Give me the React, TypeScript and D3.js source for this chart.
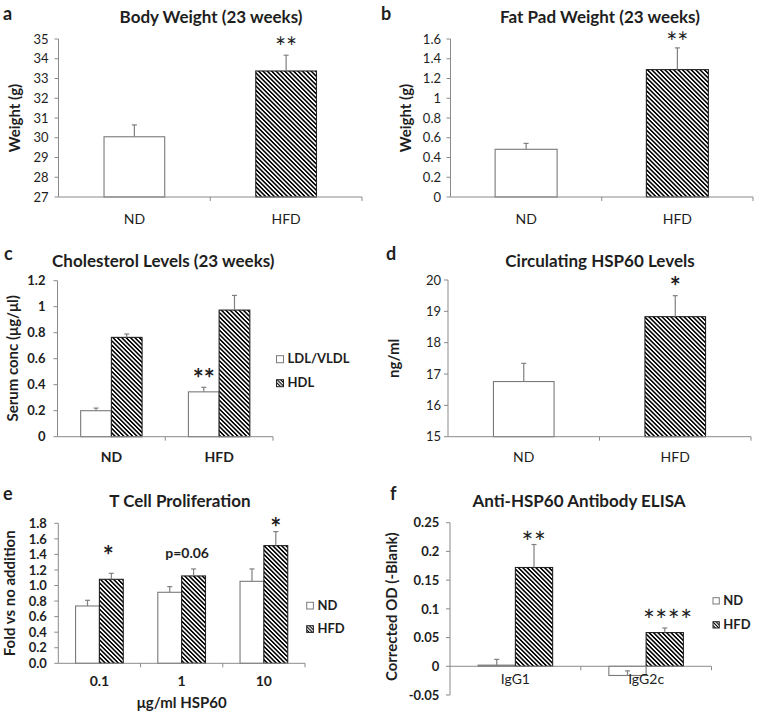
import React from "react";
import * as d3 from "d3";

// ---------- data ----------
const dietCats = ["ND", "HFD"];
const bodyWeight = [30.05, 33.38];
const bodyWeightSE = [0.6, 0.8];
const fatPad = [0.483, 1.29];
const fatPadSE = [0.06, 0.22];

const cholCats = ["ND", "HFD"];
const ldl = [0.2, 0.345];
const ldlSE = [0.02, 0.035];
const hdl = [0.764, 0.974];
const hdlSE = [0.026, 0.113];

const hsp60 = [16.76, 18.83];
const hsp60SE = [0.58, 0.67];

const doseCats = ["0.1", "1", "10"];
const prolifND = [0.737, 0.913, 1.054];
const prolifNDSE = [0.073, 0.073, 0.159];
const prolifHFD = [1.08, 1.123, 1.513];
const prolifHFDSE = [0.077, 0.09, 0.18];

const isoCats = ["IgG1", "IgG2c"];
const elisaND = [0.002, -0.016];
const elisaNDSE = [0.01, 0.008];
const elisaHFD = [0.172, 0.0587];
const elisaHFDSE = [0.04, 0.008];

const ticksA = d3.range(27, 35.001, 1);
const ticksB = d3.range(0, 1.601, 0.2);
const ticksC = d3.range(0, 1.201, 0.2);
const ticksD = d3.range(15, 20.001, 1);
const ticksE = d3.range(0, 1.801, 0.2);
const ticksF = d3.range(-0.05, 0.2501, 0.05);

// ---------- styles ----------
const FONT = "Lato, 'Open Sans', sans-serif";
const TXT = "#1e1e1e";
const AXIS = "#8a8a8a";
const ND_STROKE = "#7a7a7a";
const HFD_STROKE = "#222";
const ERR = "#808080";

type Series = { name: string; values: number[]; se: number[]; hatch: boolean[] };
type Note = { cat: number; ser: number; label: string; gap: number; size: number; bold: boolean; k: number; dx?: number; ls?: number };
interface PanelCfg {
  letter: string; letterX: number; letterY: number;
  title: string; titleX: number; titleY: number;
  xRange: [number, number]; yRange: [number, number];
  yDomain: [number, number]; yTicks: number[]; fmt: (v: number) => string;
  tickGap: number; tickBold: boolean;
  cats: string[]; series: Series[]; groupFrac: number;
  catY: number; catBold: boolean;
  yLabel: string; yLabelX: number; yLabelY: number;
  notes: Note[];
  legend?: { x: number; y: number[]; size: number };
  xTitle?: { text: string; x: number; y: number };
  baseAtZero?: boolean;
}

const trim = (v: number) => String(+v.toFixed(2));
const one = (v: number) => v.toFixed(1);

function Panel({ c }: { c: PanelCfg }) {
  const y = d3.scaleLinear().domain(c.yDomain).range(c.yRange);
  const x0 = d3.scaleBand<string>().domain(c.cats).range(c.xRange).padding(0);
  const gw = x0.bandwidth() * c.groupFrac;
  const x1 = d3.scaleBand<number>().domain(d3.range(c.series.length)).range([0, gw]).padding(0);
  const baseVal = c.baseAtZero ? 0 : c.yDomain[0];
  const axisY = y(baseVal);
  const axisX = c.xRange[0];
  const gx = (cat: string) => (x0(cat) ?? 0) + (x0.bandwidth() - gw) / 2;
  const boundaries = [...c.cats.slice(1).map((k) => x0(k) ?? 0), c.xRange[1]];
  return (
    <g fontFamily={FONT} fill={TXT}>
      <text x={c.letterX} y={c.letterY} fontSize={18} fontWeight="bold">{c.letter}</text>
      <text x={c.titleX} y={c.titleY} fontSize={17} fontWeight="bold" textAnchor="middle">{c.title}</text>
      {/* y axis */}
      <line x1={axisX} x2={axisX} y1={c.yRange[0]} y2={c.yRange[1]} stroke={AXIS} strokeWidth={1} />
      {c.yTicks.map((t, i) => (
        <g key={i}>
          <line x1={axisX - 4} x2={axisX} y1={y(t)} y2={y(t)} stroke={AXIS} />
          <text x={axisX - c.tickGap} y={y(t)} dy="0.36em" fontSize={13} textAnchor="end" fontWeight={c.tickBold ? "bold" : "normal"}>{c.fmt(t)}</text>
        </g>
      ))}
      {/* bars */}
      {c.series.map((s, si) =>
        c.cats.map((cat, ci) => {
          const v = s.values[ci];
          const bx = gx(cat) + (x1(si) ?? 0);
          const bw = x1.bandwidth();
          const top = Math.min(y(v), y(baseVal));
          const h = Math.abs(y(v) - y(baseVal));
          const cx = bx + bw / 2;
          const e = v + s.se[ci];
          const hatch = s.hatch[ci];
          return (
            <g key={si + "-" + ci}>
              <rect x={bx} y={top} width={bw} height={h} fill={hatch ? "url(#hatch)" : "#fff"} stroke={hatch ? HFD_STROKE : ND_STROKE} strokeWidth={1.1} />
              <line x1={cx} x2={cx} y1={y(v)} y2={y(e)} stroke={ERR} strokeWidth={1.2} />
              <line x1={cx - 2.5} x2={cx + 2.5} y1={y(e)} y2={y(e)} stroke={ERR} strokeWidth={1.2} />
            </g>
          );
        })
      )}
      {/* x axis */}
      <line x1={axisX} x2={c.xRange[1]} y1={axisY} y2={axisY} stroke={AXIS} strokeWidth={1} />
      {boundaries.map((bx, i) => (
        <line key={i} x1={bx} x2={bx} y1={axisY} y2={axisY + 4} stroke={AXIS} />
      ))}
      {c.cats.map((cat) => (
        <text key={cat} x={(x0(cat) ?? 0) + x0.bandwidth() / 2} y={c.catY} fontSize={14} textAnchor="middle" fontWeight={c.catBold ? "bold" : "normal"}>{cat}</text>
      ))}
      <text transform={`translate(${c.yLabelX},${c.yLabelY}) rotate(-90)`} fontSize={15} fontWeight="bold" textAnchor="middle">{c.yLabel}</text>
      {c.xTitle && (
        <text x={c.xTitle.x} y={c.xTitle.y} fontSize={15} fontWeight="bold" textAnchor="middle">{c.xTitle.text}</text>
      )}
      {c.notes.map((n, i) => {
        const s = c.series[n.ser];
        const cat = c.cats[n.cat];
        const cx = gx(cat) + (x1(n.ser) ?? 0) + x1.bandwidth() / 2 + (n.dx ?? 0);
        const ey = y(s.values[n.cat] + s.se[n.cat]);
        const cy = ey - n.gap;
        return (
          <text key={i} x={cx} y={cy + n.k * n.size} fontSize={n.size} textAnchor="middle" fontWeight={n.bold ? "bold" : "normal"} letterSpacing={n.ls ?? 0}>{n.label}</text>
        );
      })}
      {c.legend &&
        c.series.map((s, si) => (
          <g key={s.name}>
            <rect x={c.legend!.x} y={c.legend!.y[si]} width={c.legend!.size} height={c.legend!.size} fill={s.hatch[0] ? "url(#hatchS)" : "#fff"} stroke={s.hatch[0] ? HFD_STROKE : ND_STROKE} strokeWidth={1} />
            <text x={c.legend!.x + c.legend!.size + 4} y={c.legend!.y[si] + c.legend!.size + 0.5} fontSize={13} fontWeight="bold">{s.name}</text>
          </g>
        ))}
    </g>
  );
}

const plainHatched = [false, true];
const allPlain = [false, false, false];
const allHatched = [true, true, true];

const cfgA: PanelCfg = {
  letter: "a", letterX: 3, letterY: 20, title: "Body Weight (23 weeks)", titleX: 211, titleY: 22.7,
  xRange: [58.5, 362], yRange: [197, 39], yDomain: [27, 35], yTicks: ticksA, fmt: trim, tickGap: 10, tickBold: false,
  cats: dietCats, series: [{ name: "Body weight", values: bodyWeight, se: bodyWeightSE, hatch: plainHatched }], groupFrac: 0.4,
  catY: 224, catBold: false, yLabel: "Weight (g)", yLabelX: 20, yLabelY: 118,
  notes: [{ cat: 1, ser: 0, label: "**", gap: 12.4, size: 26, bold: false, k: 0.55 }],
};
const cfgB: PanelCfg = {
  letter: "b", letterX: 381, letterY: 20, title: "Fat Pad Weight (23 weeks)", titleX: 600, titleY: 22.7,
  xRange: [450.5, 753], yRange: [197, 39], yDomain: [0, 1.6], yTicks: ticksB, fmt: trim, tickGap: 9.5, tickBold: false,
  cats: dietCats, series: [{ name: "Fat pad", values: fatPad, se: fatPadSE, hatch: plainHatched }], groupFrac: 0.41,
  catY: 224, catBold: false, yLabel: "Weight (g)", yLabelX: 411, yLabelY: 118,
  notes: [{ cat: 1, ser: 0, label: "**", gap: 10, size: 26, bold: false, k: 0.55 }],
};
const cfgC: PanelCfg = {
  letter: "c", letterX: 4, letterY: 260, title: "Cholesterol Levels (23 weeks)", titleX: 163.3, titleY: 266.7,
  xRange: [57.5, 273], yRange: [436.7, 280.7], yDomain: [0, 1.2], yTicks: ticksC, fmt: trim, tickGap: 12, tickBold: true,
  cats: cholCats,
  series: [
    { name: "LDL/VLDL", values: ldl, se: ldlSE, hatch: [false, false] },
    { name: "HDL", values: hdl, se: hdlSE, hatch: [true, true] },
  ],
  groupFrac: 0.57, catY: 461.7, catBold: true, yLabel: "Serum conc (μg/μl)", yLabelX: 18, yLabelY: 358.3,
  notes: [{ cat: 1, ser: 0, label: "**", gap: 14, size: 26, bold: true, k: 0.55 }],
  legend: { x: 276.5, y: [355.7, 379.7], size: 7 },
};
const cfgD: PanelCfg = {
  letter: "d", letterX: 386, letterY: 260, title: "Circulating HSP60 Levels", titleX: 600, titleY: 266.7,
  xRange: [448, 751], yRange: [436.7, 280], yDomain: [15, 20], yTicks: ticksD, fmt: trim, tickGap: 7, tickBold: false,
  cats: dietCats, series: [{ name: "HSP60", values: hsp60, se: hsp60SE, hatch: plainHatched }], groupFrac: 0.4,
  catY: 461.7, catBold: false, yLabel: "ng/ml", yLabelX: 399, yLabelY: 358.3,
  notes: [{ cat: 1, ser: 0, label: "*", gap: 14, size: 26, bold: true, k: 0.55 }],
};
const cfgE: PanelCfg = {
  letter: "e", letterX: 3, letterY: 500, title: "T Cell Proliferation", titleX: 180, titleY: 506.7,
  xRange: [58.3, 305], yRange: [663.3, 523.3], yDomain: [0, 1.8], yTicks: ticksE, fmt: one, tickGap: 11.5, tickBold: true,
  cats: doseCats,
  series: [
    { name: "ND", values: prolifND, se: prolifNDSE, hatch: allPlain },
    { name: "HFD", values: prolifHFD, se: prolifHFDSE, hatch: allHatched },
  ],
  groupFrac: 0.58, catY: 686, catBold: true, yLabel: "Fold vs no addition", yLabelX: 15, yLabelY: 593.3,
  notes: [
    { cat: 0, ser: 1, label: "*", gap: 22.6, size: 26, bold: true, k: 0.55, dx: -3 },
    { cat: 1, ser: 1, label: "p=0.06", gap: 16.3, size: 14, bold: true, k: 0.36, dx: -6.5 },
    { cat: 2, ser: 1, label: "*", gap: 9, size: 26, bold: true, k: 0.55 },
  ],
  legend: { x: 306.7, y: [602.3, 625.7], size: 6.7 },
  xTitle: { text: "μg/ml HSP60", x: 181.7, y: 708.3 },
};
const cfgF: PanelCfg = {
  letter: "f", letterX: 390, letterY: 500, title: "Anti-HSP60 Antibody ELISA", titleX: 579, titleY: 506.7,
  xRange: [450, 711.5], yRange: [695, 522.7], yDomain: [-0.05, 0.25], yTicks: ticksF, fmt: trim, tickGap: 10.7, tickBold: true,
  cats: isoCats,
  series: [
    { name: "ND", values: elisaND, se: elisaNDSE, hatch: [false, false] },
    { name: "HFD", values: elisaHFD, se: elisaHFDSE, hatch: [true, true] },
  ],
  groupFrac: 0.57, catY: 684, catBold: false, yLabel: "Corrected OD (-Blank)", yLabelX: 397, yLabelY: 606.7,
  notes: [
    { cat: 0, ser: 1, label: "**", gap: 7, size: 28, bold: false, k: 0.55, ls: 0.5 },
    { cat: 1, ser: 1, label: "****", gap: 12.7, size: 28, bold: false, k: 0.55, dx: 3, ls: 0.5 },
  ],
  legend: { x: 713, y: [597.7, 621.7], size: 6.3 },
  baseAtZero: true,
};

export default function App() {
  const all = [cfgA, cfgB, cfgC, cfgD, cfgE, cfgF];
  return (
    <svg width={757} height={715} style={{ position: "absolute", left: 0, top: 0, background: "#fff" }}>
      <defs>
        <pattern id="hatch" patternUnits="userSpaceOnUse" width={3.1} height={3.1} patternTransform="rotate(45)">
          <rect width={3.1} height={3.1} fill="#fff" />
          <rect width={3.1} height={1.55} fill="#000" />
        </pattern>
        <pattern id="hatchS" patternUnits="userSpaceOnUse" width={2.4} height={2.4} patternTransform="rotate(45)">
          <rect width={2.4} height={2.4} fill="#fff" />
          <rect width={2.4} height={1.1} fill="#000" />
        </pattern>
      </defs>
      <rect width={757} height={715} fill="#fff" />
      {all.map((c, i) => (
        <Panel key={i} c={c} />
      ))}
    </svg>
  );
}
